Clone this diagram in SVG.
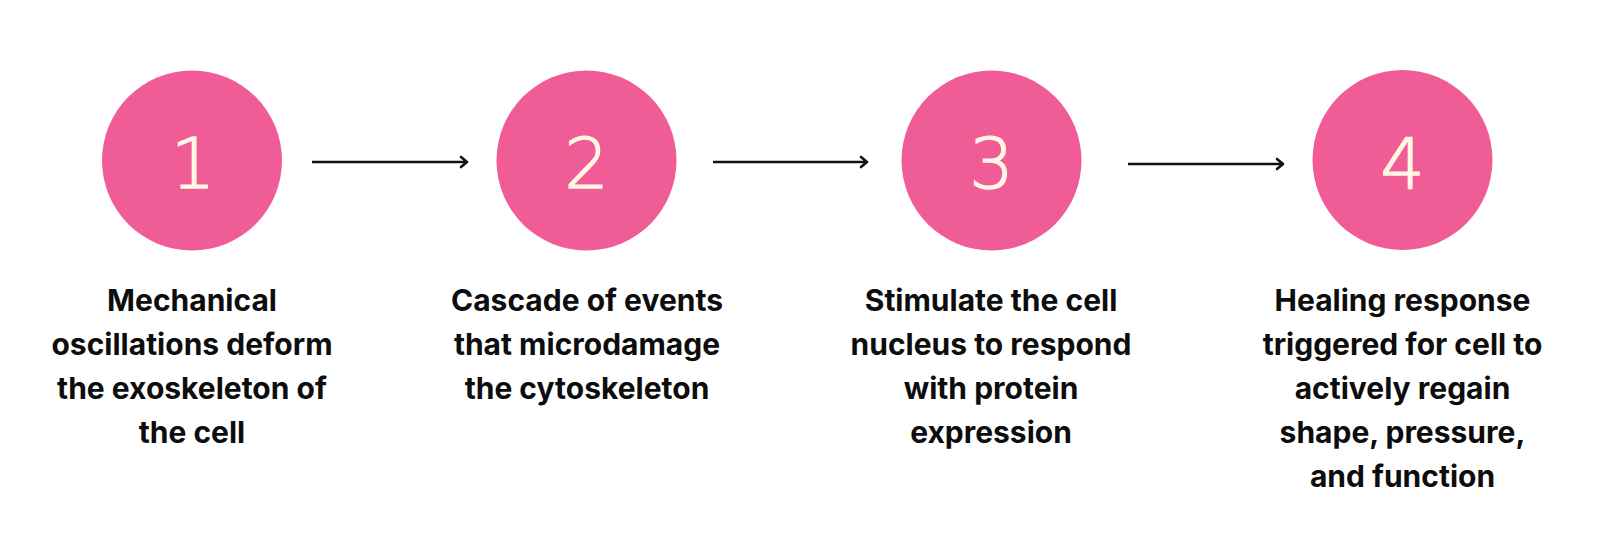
<svg xmlns="http://www.w3.org/2000/svg" width="1600" height="549" viewBox="0 0 1600 549">
<style>
.c{fill:#F05C96}
.n{font-family:"DejaVu Sans","Liberation Sans",sans-serif;font-weight:200;font-size:70px;fill:#FFF6E4;stroke:#FFF6E4;stroke-width:1.4;text-anchor:middle}
.t{font-family:Inter,"Liberation Sans",sans-serif;font-weight:700;font-size:30px;fill:#0d0d0d;text-anchor:middle}
.a{stroke:#111;stroke-width:2.6;fill:none}
</style>
<defs>
<marker id="ah" markerUnits="userSpaceOnUse" markerWidth="14" markerHeight="14" viewBox="-8 -7 10 14" refX="0" refY="0" orient="auto">
<path d="M-6,-5 L0,0 L-6,5" fill="none" stroke="#111" stroke-width="2.6" stroke-linecap="round" stroke-linejoin="round"/>
</marker>
</defs>
<rect width="1600" height="549" fill="#fff"/>
<g id="connectors">
<line class="a" x1="312" y1="162" x2="467" y2="162" marker-end="url(#ah)"/>
<line class="a" x1="713" y1="162" x2="867" y2="162" marker-end="url(#ah)"/>
<line class="a" x1="1128" y1="164" x2="1283" y2="164" marker-end="url(#ah)"/>
</g>
<g id="node1">
<circle class="c" cx="192" cy="160.5" r="90"/>
<text class="n" x="193" y="188">1</text>
<text class="t" x="192" y="311">Mechanical<tspan x="192" y="355">oscillations deform</tspan><tspan x="192" y="399">the exoskeleton of</tspan><tspan x="192" y="443">the cell</tspan></text>
</g>
<g id="node2">
<circle class="c" cx="586.5" cy="160.5" r="90"/>
<text class="n" x="586.5" y="188">2</text>
<text class="t" x="587" y="311">Cascade of events<tspan x="587" y="355">that microdamage</tspan><tspan x="587" y="399">the cytoskeleton</tspan></text>
</g>
<g id="node3">
<circle class="c" cx="991.5" cy="160.5" r="90"/>
<text class="n" x="991.5" y="188">3</text>
<text class="t" x="991" y="311">Stimulate the cell<tspan x="991" y="355">nucleus to respond</tspan><tspan x="991" y="399">with protein</tspan><tspan x="991" y="443">expression</tspan></text>
</g>
<g id="node4">
<circle class="c" cx="1402.5" cy="160" r="90"/>
<text class="n" x="1402.5" y="188">4</text>
<text class="t" x="1402.5" y="311">Healing response<tspan x="1402.5" y="355">triggered for cell to</tspan><tspan x="1402.5" y="399">actively regain</tspan><tspan x="1402.5" y="443">shape, pressure,</tspan><tspan x="1402.5" y="487">and function</tspan></text>
</g>
</svg>
